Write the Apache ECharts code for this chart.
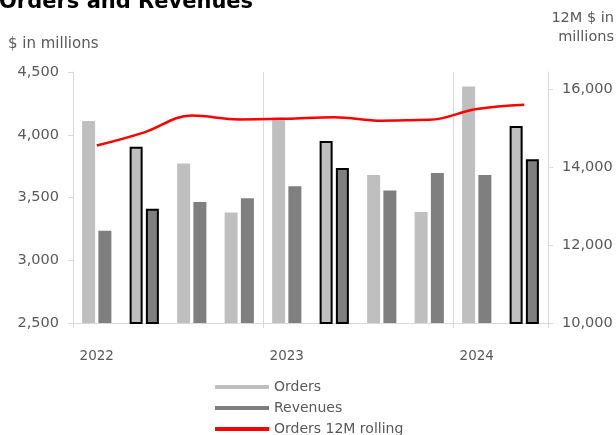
<!DOCTYPE html>
<html>
<head>
<meta charset="utf-8">
<script src="https://cdn.jsdelivr.net/npm/echarts@6/dist/echarts.min.js"></script>
<style>
  html, body { margin: 0; padding: 0; background: #ffffff; }
  #chart { width: 616px; height: 435px; }
</style>
</head>
<body>
<div id="chart"></div>
<script>
// Quarterly orders and revenues ($ in millions) with rolling 12-month orders
const quarters = ['2022 Q1', '2022 Q2', '2022 Q3', '2022 Q4',
                  '2023 Q1', '2023 Q2', '2023 Q3', '2023 Q4',
                  '2024 Q1', '2024 Q2'];
const orders    = [4110, 3905, 3770, 3380, 4135, 3950, 3680, 3385, 4385, 4070];
const revenues  = [3235, 3410, 3465, 3495, 3590, 3735, 3555, 3695, 3680, 3805];
const orders12m = [14560, 14900, 15330, 15230, 15250, 15290, 15200, 15220, 15500, 15610];
// quarters drawn with a black outline
const outlined = [1, 5, 9];
// axis ranges
const leftAxis  = { min: 2500, max: 4500, step: 500 };
const rightAxis = { min: 10000, max: 16450, step: 2000 };

const FONT = '"DejaVu Sans", Verdana, sans-serif';
const GREY_TEXT = '#595959';
const AXIS_GREY = '#d9d9d9';
const fmt = v => Number(v).toLocaleString('en-US');
const yearStart = i => i % 4 === 0;

const withOutline = arr => arr.map((v, i) => outlined.includes(i)
  ? { value: v, itemStyle: { borderColor: '#000000', borderWidth: 2 } }
  : v);

const chart = echarts.init(document.getElementById('chart'), null, { renderer: 'canvas' });

chart.setOption({
  animation: false,
  backgroundColor: '#ffffff',
  textStyle: { fontFamily: FONT },
  grid: { left: 73, right: 68, top: 72, bottom: 112, containLabel: false },
  graphic: [
    { type: 'text', left: -1, top: -8,
      style: { text: 'Orders and Revenues', fontFamily: FONT, fontWeight: 'bold', fontSize: 21, fill: '#000000' } },
    { type: 'text', left: 8, top: 37,
      style: { text: '$ in millions', fontFamily: FONT, fontSize: 15, fill: GREY_TEXT } },
    { type: 'text', right: 2, top: 11,
      style: { text: '12M $ in', fontFamily: FONT, fontSize: 14.5, fill: GREY_TEXT } },
    { type: 'text', right: 2, top: 30,
      style: { text: 'millions', fontFamily: FONT, fontSize: 14.5, fill: GREY_TEXT } }
  ],
  legend: {
    orient: 'vertical',
    left: 215,
    top: 380,
    height: 70,
    padding: 0,
    itemWidth: 54,
    itemHeight: 4,
    itemGap: 7,
    textStyle: { fontFamily: FONT, fontSize: 14, color: GREY_TEXT, lineHeight: 14 },
    data: [
      { name: 'Orders', icon: 'rect' },
      { name: 'Revenues', icon: 'rect' },
      { name: 'Orders 12M rolling', icon: 'rect' }
    ]
  },
  xAxis: {
    type: 'category',
    data: quarters,
    boundaryGap: true,
    axisLine: { show: true, lineStyle: { color: AXIS_GREY, width: 1 } },
    axisTick: { show: true, interval: yearStart, length: 5, lineStyle: { color: AXIS_GREY } },
    splitLine: { show: true, interval: yearStart, lineStyle: { color: AXIS_GREY, width: 1 } },
    axisLabel: {
      interval: yearStart,
      formatter: v => v.slice(0, 4),
      color: GREY_TEXT, fontFamily: FONT, fontSize: 13.5, margin: 26
    }
  },
  yAxis: [
    {
      type: 'value',
      min: leftAxis.min, max: leftAxis.max, interval: leftAxis.step,
      axisLine: { show: true, lineStyle: { color: AXIS_GREY } },
      axisTick: { show: true, length: 5, lineStyle: { color: AXIS_GREY } },
      splitLine: { show: false },
      axisLabel: { formatter: fmt, color: GREY_TEXT, fontFamily: FONT, fontSize: 14.5, margin: 14 }
    },
    {
      type: 'value',
      position: 'right',
      min: rightAxis.min, max: rightAxis.max, interval: rightAxis.step,
      axisLine: { show: true, lineStyle: { color: AXIS_GREY } },
      axisTick: { show: true, length: 5, lineStyle: { color: AXIS_GREY } },
      splitLine: { show: false },
      axisLabel: { formatter: fmt, showMaxLabel: false, color: GREY_TEXT, fontFamily: FONT, fontSize: 14.5, margin: 14 }
    }
  ],
  series: [
    {
      name: 'Orders', type: 'bar', yAxisIndex: 0,
      barWidth: 13, barGap: '25%',
      itemStyle: { color: '#bfbfbf' },
      data: withOutline(orders)
    },
    {
      name: 'Revenues', type: 'bar', yAxisIndex: 0,
      barWidth: 13, barGap: '25%',
      itemStyle: { color: '#7f7f7f' },
      data: withOutline(revenues)
    },
    {
      name: 'Orders 12M rolling', type: 'line', yAxisIndex: 1,
      color: '#ff0000',
      smooth: 0.4, symbol: 'none',
      lineStyle: { color: '#ff0000', width: 2.5 },
      itemStyle: { color: '#ff0000' },
      data: orders12m,
      z: 5
    }
  ]
});
</script>
</body>
</html>
